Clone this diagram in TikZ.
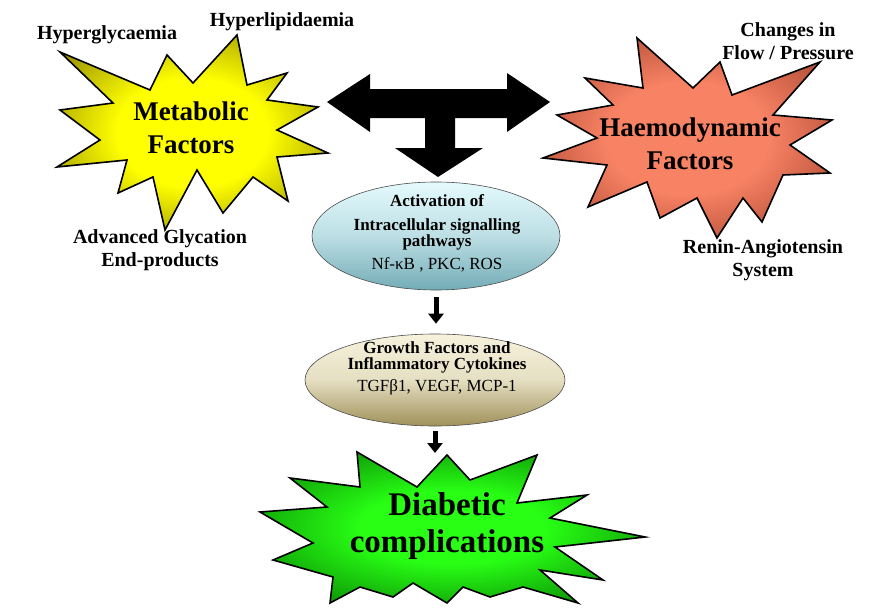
\documentclass[tikz,border=0pt]{standalone}
\usepackage{fontspec}
\setmainfont{Liberation Serif}
\usetikzlibrary{shapes.geometric,arrows.meta}

\definecolor{metayel}{RGB}{255,255,0}
\definecolor{metaolive}{RGB}{110,100,0}
\definecolor{haemsalm}{RGB}{248,130,100}
\definecolor{haembrown}{RGB}{140,50,30}
\definecolor{diagreen}{RGB}{40,255,20}
\definecolor{diadark}{RGB}{0,100,0}
\definecolor{actlight}{RGB}{228,250,253}
\definecolor{actdark}{RGB}{115,172,182}
\definecolor{growlight}{RGB}{246,242,220}
\definecolor{growdark}{RGB}{160,145,90}

\pgfdeclareradialshading{metashade}{\pgfpoint{0bp}{0bp}}{color(0bp)=(metayel); color(14bp)=(metayel); color(38bp)=(metaolive); color(80bp)=(metaolive)}
\pgfdeclareradialshading{haemshade}{\pgfpoint{0bp}{0bp}}{color(0bp)=(haemsalm); color(14bp)=(haemsalm); color(38bp)=(haembrown); color(80bp)=(haembrown)}
\pgfdeclareradialshading{diashade}{\pgfpoint{0bp}{0bp}}{color(0bp)=(diagreen); color(12bp)=(diagreen); color(38bp)=(diadark); color(80bp)=(diadark)}

\begin{document}
\begin{tikzpicture}[x=1pt,y=1pt,
  star/.style={draw=black,line width=1.6pt,line join=miter},
  lbl/.style={font=\fontsize{20}{23}\selectfont\bfseries,align=center},
  big/.style={font=\fontsize{27}{33}\selectfont\bfseries,align=center},
  oval/.style={ellipse,draw=black!70,line width=0.6pt},
  smallarrow/.style={line width=5pt,-{Triangle[width=15pt,length=10pt]}}]
\tikzstyle{every node}+=[inner sep=0pt]
\useasboundingbox (0,0) rectangle (886,-613);
% metabolic star
\draw [star,shading=metashade] (60,-52) -- (150,-90) -- (167,-55) -- (193,-83) -- (237,-35) -- (247,-85) -- (287,-73) -- (267,-100) -- (318,-107) -- (277,-130) -- (328,-153) -- (277,-157) -- (288,-201) -- (253,-177) -- (223,-213) -- (197,-170) -- (165,-230) -- (153,-177) -- (118,-193) -- (127,-160) -- (57,-167) -- (100,-140) -- (60,-110) -- (113,-103) -- cycle;
% haemodynamic star
\draw [star,shading=haemshade] (637,-38) -- (693,-88) -- (720,-62) -- (732,-95) -- (820,-62) -- (773,-115) -- (832,-120) -- (790,-145) -- (830,-173) -- (783,-175) -- (762,-222) -- (743,-198) -- (717,-238) -- (697,-198) -- (660,-218) -- (647,-182) -- (588,-207) -- (607,-165) -- (543,-158) -- (597,-138) -- (557,-115) -- (613,-105) -- (585,-78) -- (643,-88) -- cycle;
% diabetic star
\coordinate (diatop) at (447,-455);
\draw [star,shading=diashade] (diatop) -- (470,-480) -- (537,-455) -- (517,-503) -- (587,-495) -- (550,-518) -- (645,-537) -- (555,-547) -- (603,-580) -- (540,-570) -- (578,-603) -- (523,-587) -- (490,-597) -- (463,-587) -- (447,-603) -- (413,-583) -- (393,-597) -- (360,-587) -- (330,-603) -- (333,-577) -- (273,-560) -- (313,-543) -- (260,-512) -- (327,-507) -- (290,-478) -- (360,-487) -- (357,-452) -- (417,-487) -- cycle;
% T shaped double arrow
\fill [black] (327,-102) -- (370,-74) -- (370,-89) -- (507,-89) -- (507,-73) -- (550,-102) -- (507,-132) -- (507,-118) -- (455,-118) -- (455,-148) -- (483,-148) -- (438,-177) -- (395,-148) -- (425,-148) -- (425,-118) -- (370,-118) -- (370,-132) -- cycle;
% ovals
\node [oval,minimum width=248,minimum height=108,top color=actlight,bottom color=actdark,middle color=actlight!65!actdark] (act) at (436,-236) {};
\node [oval,minimum width=260,minimum height=92,top color=growlight,bottom color=growdark,middle color=growlight!80!growdark] (growth) at (435,-380) {};
\node [font=\fontsize{17}{15}\selectfont\bfseries,align=center] (acttxt) at (437,-233) {Activation of\\[9pt] Intracellular signalling\\ pathways\\[6pt] \mdseries Nf-κB , PKC, ROS};
\node [font=\fontsize{17}{16.5}\selectfont\bfseries,align=center] (growtxt) at (437,-368) {Growth Factors and\\ Inflammatory Cytokines\\[5pt] \mdseries TGFβ1, VEGF, MCP-1};
% labels
\node [lbl] (hypgly) at (107,-35) {Hyperglycaemia};
\node [lbl] (hyplip) at (282,-22) {Hyperlipidaemia};
\node [big] (metab) at (191,-128) {Metabolic\\Factors};
\node [lbl] (age) at (160,-250) {Advanced Glycation\\End-products};
\node [lbl] (flow) at (788,-41) {Changes in\\Flow / Pressure};
\node [big] (haemo) at (690,-144) {Haemodynamic\\Factors};
\node [lbl] (ras) at (763,-260) {Renin-Angiotensin\\System};
\node [font=\fontsize{33}{37}\selectfont\bfseries,align=center] (diab) at (447,-526) {Diabetic\\complications};
% arrows
\draw [smallarrow,shorten <=7pt,shorten >=10pt] (act.south) -- (act.south |- growth.north);
\draw [smallarrow,shorten <=5pt,shorten >=2pt] (growth.south) -- (growth.south |- diatop);
\end{tikzpicture}
\end{document}
